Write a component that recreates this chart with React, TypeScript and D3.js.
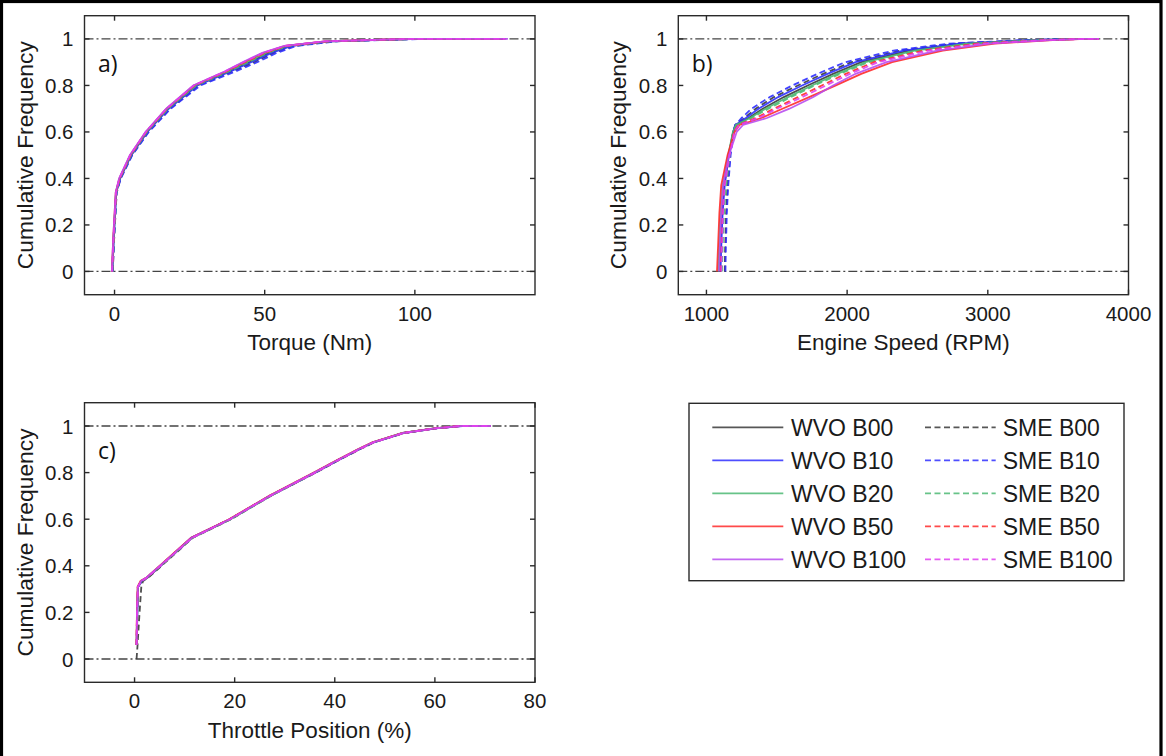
import React from 'react';
import * as d3 from 'd3';

// ---------- shared ----------
const SERIES_NAMES = ['WVO B00', 'WVO B10', 'WVO B20', 'WVO B50', 'WVO B100', 'SME B00', 'SME B10', 'SME B20', 'SME B50', 'SME B100'];
const SERIES_COLORS = ['#3a3a3a', '#2f2fff', '#4cb873', '#ff2a2a', '#b84ef0', '#3a3a3a', '#2f2fff', '#4cb873', '#ff2a2a', '#e040f0'];
const SERIES_DASHED = [false, false, false, false, false, true, true, true, true, true];
const DRAW_ORDER = [0, 5, 1, 6, 2, 7, 3, 8, 4, 9];

const Y_TICKS = [0, 0.2, 0.4, 0.6, 0.8, 1];
const Y_TICK_LABELS = ['0', '0.2', '0.4', '0.6', '0.8', '1'];
const Y_DOMAIN = [-0.1, 1.1];
const REF_LEVELS = [0, 1];

// ---------- a) Torque ----------
const TORQUE_TICKS = [0, 50, 100];
const TORQUE_DOMAIN = [-10, 140];
const TORQUE_LEVELS = [0, 0.15, 0.34, 0.4, 0.5, 0.6, 0.7, 0.8, 0.86, 0.9, 0.94, 0.97, 0.99, 0.997, 1, 1];
const TQ_WVO_B00 = [-0.8, -0.3, 0.5, 1.8, 5.5, 10.8, 17.9, 27.3, 38.0, 44.8, 51.5, 58.5, 72, 91, 101, 129];
const TQ_WVO_B10 = [-0.7, -0.2, 0.6, 1.9, 5.6, 10.9, 18.0, 27.6, 38.6, 45.5, 52.3, 59.0, 72, 92, 102, 130];
const TQ_WVO_B20 = [-0.8, -0.3, 0.5, 1.7, 5.4, 10.6, 17.6, 26.9, 37.4, 43.8, 50.4, 57.4, 71, 90, 100, 128];
const TQ_WVO_B50 = [-0.9, -0.4, 0.4, 1.6, 5.2, 10.4, 17.3, 26.4, 36.9, 43.0, 49.6, 56.8, 70, 89, 99, 130];
const TQ_WVO_B100 = [-0.9, -0.4, 0.4, 1.5, 5.1, 10.3, 17.2, 26.2, 36.6, 42.6, 49.2, 56.5, 70, 89, 99, 131];
const TQ_SME_B00 = [-0.6, -0.1, 0.7, 2.0, 5.8, 11.2, 18.4, 28.0, 39.2, 46.5, 53.0, 59.5, 73, 92, 102, 129];
const TQ_SME_B10 = [-0.6, -0.1, 0.7, 2.1, 5.9, 11.4, 18.7, 28.6, 40.2, 47.5, 54.0, 60.5, 74, 93, 103, 130];
const TQ_SME_B20 = [-0.7, -0.2, 0.6, 1.8, 5.5, 10.8, 17.8, 27.2, 38.0, 44.5, 51.0, 58.0, 72, 91, 101, 129];
const TQ_SME_B50 = [-0.8, -0.3, 0.5, 1.7, 5.3, 10.5, 17.4, 26.6, 37.2, 43.4, 50.0, 57.0, 71, 90, 100, 130];
const TQ_SME_B100 = [-0.8, -0.3, 0.5, 1.6, 5.2, 10.4, 17.3, 26.4, 36.8, 42.9, 49.5, 56.7, 70, 89, 100, 130];

// ---------- b) Engine speed ----------
const RPM_TICKS = [1000, 2000, 3000, 4000];
const RPM_DOMAIN = [800, 4000];
const RPM_LEVELS = [0, 0.1, 0.25, 0.37, 0.5, 0.6, 0.63, 0.66, 0.7, 0.75, 0.8, 0.85, 0.9, 0.95, 0.98, 0.995, 1, 1];
const RPM_WVO_B00 = [1095, 1100, 1110, 1125, 1158, 1190, 1210, 1300, 1400, 1550, 1720, 1900, 2100, 2440, 2830, 3340, 3650, 3790];
const RPM_WVO_B10 = [1100, 1105, 1115, 1130, 1160, 1190, 1205, 1280, 1370, 1510, 1680, 1860, 2060, 2400, 2790, 3320, 3640, 3780];
const RPM_WVO_B20 = [1085, 1090, 1100, 1115, 1155, 1188, 1210, 1310, 1420, 1580, 1750, 1930, 2130, 2480, 2860, 3360, 3660, 3790];
const RPM_WVO_B50 = [1075, 1082, 1092, 1105, 1150, 1200, 1235, 1390, 1540, 1730, 1920, 2100, 2320, 2680, 3050, 3460, 3700, 3790];
const RPM_WVO_B100 = [1090, 1095, 1105, 1118, 1160, 1215, 1260, 1430, 1590, 1760, 1900, 2060, 2280, 2640, 3010, 3440, 3690, 3790];
const RPM_SME_B00 = [1130, 1133, 1140, 1150, 1168, 1190, 1205, 1270, 1350, 1480, 1650, 1830, 2030, 2380, 2770, 3300, 3620, 3790];
const RPM_SME_B10 = [1135, 1138, 1145, 1155, 1172, 1192, 1205, 1250, 1320, 1450, 1610, 1790, 1985, 2330, 2720, 3250, 3600, 3790];
const RPM_SME_B20 = [1110, 1115, 1125, 1140, 1165, 1192, 1215, 1320, 1440, 1600, 1770, 1950, 2150, 2500, 2880, 3380, 3670, 3790];
const RPM_SME_B50 = [1100, 1105, 1112, 1125, 1160, 1195, 1225, 1350, 1480, 1650, 1820, 1990, 2190, 2540, 2920, 3400, 3680, 3790];
const RPM_SME_B100 = [1105, 1110, 1118, 1130, 1165, 1198, 1230, 1370, 1500, 1680, 1850, 2020, 2220, 2580, 2960, 3420, 3690, 3790];

// ---------- c) Throttle ----------
const THR_TICKS = [0, 20, 40, 60, 80];
const THR_DOMAIN = [-10, 80];
const THR_LEVELS = [0, 0.06, 0.2, 0.31, 0.335, 0.35, 0.4, 0.45, 0.52, 0.6, 0.7, 0.8, 0.85, 0.9, 0.93, 0.97, 0.99, 1, 1];
const THR_WVO_B00 = [null, 0.45, 0.55, 0.7, 1.5, 2.6, 5.2, 7.8, 11.4, 19.0, 27.0, 36.0, 40.3, 44.8, 47.7, 53.7, 60.0, 65.0, 71.2];
const THR_WVO_B10 = [null, 0.42, 0.52, 0.7, 1.4, 2.5, 5.1, 7.7, 11.3, 19.1, 27.1, 36.1, 40.4, 44.9, 47.8, 53.8, 60.2, 65.5, 71.0];
const THR_WVO_B20 = [null, 0.40, 0.50, 0.65, 1.3, 2.5, 5.2, 7.8, 11.5, 19.2, 27.2, 36.0, 40.2, 44.7, 47.6, 53.5, 59.8, 64.8, 71.2];
const THR_WVO_B50 = [null, 0.38, 0.48, 0.62, 1.2, 2.4, 5.0, 7.6, 11.3, 18.9, 26.9, 35.8, 40.1, 44.6, 47.5, 53.6, 59.9, 65.0, 71.1];
const THR_WVO_B100 = [null, 0.40, 0.50, 0.66, 1.3, 2.4, 5.1, 7.7, 11.4, 19.0, 27.0, 35.9, 40.2, 44.7, 47.6, 53.7, 60.0, 65.2, 71.2];
const THR_SME_B00 = [0.40, 0.60, 1.00, 1.35, 1.7, 2.8, 5.4, 8.0, 11.6, 19.3, 27.2, 36.2, 40.5, 45.0, 47.9, 53.9, 60.2, 65.4, 71.2];
const THR_SME_B10 = [null, 0.45, 0.55, 0.72, 1.5, 2.6, 5.2, 7.9, 11.5, 19.1, 27.1, 36.0, 40.3, 44.8, 47.7, 53.7, 60.1, 65.1, 71.0];
const THR_SME_B20 = [null, 0.42, 0.52, 0.68, 1.4, 2.5, 5.1, 7.8, 11.4, 19.0, 27.0, 35.9, 40.2, 44.8, 47.6, 53.6, 60.0, 65.0, 71.1];
const THR_SME_B50 = [null, 0.38, 0.48, 0.64, 1.3, 2.5, 5.1, 7.7, 11.4, 19.0, 27.0, 36.0, 40.3, 44.8, 47.7, 53.7, 60.0, 65.0, 71.2];
const THR_SME_B100 = [null, 0.40, 0.50, 0.66, 1.4, 2.5, 5.2, 7.8, 11.5, 19.1, 27.1, 36.1, 40.4, 44.9, 47.8, 53.8, 60.1, 65.2, 71.2];

type Panel = {
  tag: string;
  xLabel: string;
  xDomain: number[];
  xTicks: number[];
  levels: number[];
  series: (number | null)[][];
  box: { x0: number; x1: number; y0: number; y1: number };
};

const PANELS: Panel[] = [
  {
    tag: 'a)', xLabel: 'Torque (Nm)', xDomain: TORQUE_DOMAIN, xTicks: TORQUE_TICKS, levels: TORQUE_LEVELS,
    series: [TQ_WVO_B00, TQ_WVO_B10, TQ_WVO_B20, TQ_WVO_B50, TQ_WVO_B100, TQ_SME_B00, TQ_SME_B10, TQ_SME_B20, TQ_SME_B50, TQ_SME_B100],
    box: { x0: 84.5, x1: 535, y0: 15.7, y1: 294.7 },
  },
  {
    tag: 'b)', xLabel: 'Engine Speed (RPM)', xDomain: RPM_DOMAIN, xTicks: RPM_TICKS, levels: RPM_LEVELS,
    series: [RPM_WVO_B00, RPM_WVO_B10, RPM_WVO_B20, RPM_WVO_B50, RPM_WVO_B100, RPM_SME_B00, RPM_SME_B10, RPM_SME_B20, RPM_SME_B50, RPM_SME_B100],
    box: { x0: 678.3, x1: 1128.5, y0: 15.7, y1: 294.7 },
  },
  {
    tag: 'c)', xLabel: 'Throttle Position (%)', xDomain: THR_DOMAIN, xTicks: THR_TICKS, levels: THR_LEVELS,
    series: [THR_WVO_B00, THR_WVO_B10, THR_WVO_B20, THR_WVO_B50, THR_WVO_B100, THR_SME_B00, THR_SME_B10, THR_SME_B20, THR_SME_B50, THR_SME_B100],
    box: { x0: 84.5, x1: 535, y0: 402.7, y1: 682.3 },
  },
];

const AX = '#2a2a2a';
const FONT = "'Liberation Sans', Arial, sans-serif";
const TAG_FONT = "'Open Sans', 'Noto Sans', sans-serif";

function PanelView({ p }: { p: Panel }) {
  const { box } = p;
  const x = d3.scaleLinear().domain(p.xDomain).range([box.x0, box.x1]);
  const y = d3.scaleLinear().domain(Y_DOMAIN).range([box.y1, box.y0]);
  const tickLen = 5;
  const line = d3
    .line<[number | null, number]>()
    .defined((d) => d[0] !== null)
    .x((d) => x(d[0] as number))
    .y((d) => y(d[1]));
  const cx = (box.x0 + box.x1) / 2;
  const cy = (y(0) + y(1)) / 2;
  return (
    <g>
      <defs>
        <clipPath id={'clip-' + p.tag}>
          <rect x={box.x0} y={box.y0} width={box.x1 - box.x0} height={box.y1 - box.y0} />
        </clipPath>
      </defs>
      <rect x={box.x0} y={box.y0} width={box.x1 - box.x0} height={box.y1 - box.y0} fill="#fff" />
      {REF_LEVELS.map((v) => (
        <line key={'ref' + v} x1={box.x0} x2={box.x1} y1={y(v)} y2={y(v)} stroke="#444" strokeWidth={1.3} strokeDasharray="9,3,2,3" />
      ))}
      <g clipPath={`url(#clip-${p.tag})`}>
        {DRAW_ORDER.map((i) => {
          const pts = p.levels.map((f, k) => [p.series[i][k], f] as [number | null, number]);
          return (
            <path
              key={i}
              d={line(pts) || ''}
              fill="none"
              stroke={SERIES_COLORS[i]}
              strokeWidth={1.8}
              strokeOpacity={0.9}
              strokeDasharray={SERIES_DASHED[i] ? '6,3.5' : undefined}
            />
          );
        })}
      </g>
      <rect x={box.x0} y={box.y0} width={box.x1 - box.x0} height={box.y1 - box.y0} fill="none" stroke={AX} strokeWidth={1.4} />
      {p.xTicks.map((t) => (
        <g key={'xt' + t}>
          <line x1={x(t)} x2={x(t)} y1={box.y1} y2={box.y1 - tickLen} stroke={AX} strokeWidth={1.4} />
          <line x1={x(t)} x2={x(t)} y1={box.y0} y2={box.y0 + tickLen} stroke={AX} strokeWidth={1.4} />
          <text x={x(t)} y={box.y1 + 26} textAnchor="middle" fontSize={20.5} fontFamily={FONT} fill="#1a1a1a">
            {String(t)}
          </text>
        </g>
      ))}
      {Y_TICKS.map((t, k) => (
        <g key={'yt' + t}>
          <line x1={box.x0} x2={box.x0 + tickLen} y1={y(t)} y2={y(t)} stroke={AX} strokeWidth={1.4} />
          <line x1={box.x1} x2={box.x1 - tickLen} y1={y(t)} y2={y(t)} stroke={AX} strokeWidth={1.4} />
          <text x={box.x0 - 11} y={y(t) + 7.5} textAnchor="end" fontSize={20.5} fontFamily={FONT} fill="#1a1a1a">
            {Y_TICK_LABELS[k]}
          </text>
        </g>
      ))}
      <text x={cx} y={box.y1 + 55.5} textAnchor="middle" fontSize={22.5} fontFamily={FONT} fill="#1a1a1a">
        {p.xLabel}
      </text>
      <text
        transform={`translate(${box.x0 - 52},${cy}) rotate(-90)`}
        textAnchor="middle"
        fontSize={22.8}
        fontFamily={FONT}
        fill="#1a1a1a"
      >
        Cumulative Frequency
      </text>
      <text x={box.x0 + 13.5} y={y(1) + 33} fontSize={23} fontFamily={TAG_FONT} fill="#111">
        {p.tag}
      </text>
    </g>
  );
}

function Legend() {
  const bx0 = 689, bx1 = 1124, by0 = 403.3, by1 = 580.7;
  const rowY = d3.scaleLinear().domain([0, 4]).range([427.3, 559.3]);
  return (
    <g>
      <rect x={bx0} y={by0} width={bx1 - bx0} height={by1 - by0} fill="#fff" stroke={AX} strokeWidth={1.4} />
      {SERIES_NAMES.map((name, i) => {
        const col = i < 5 ? 0 : 1;
        const row = i % 5;
        const yy = rowY(row);
        const lx0 = col === 0 ? 712.3 : 925;
        const lx1 = col === 0 ? 783.3 : 995.7;
        const tx = col === 0 ? 791 : 1002.7;
        return (
          <g key={name}>
            <line x1={lx0} x2={lx1} y1={yy} y2={yy} stroke={SERIES_COLORS[i]} strokeWidth={1.8} strokeDasharray={SERIES_DASHED[i] ? '6,3.5' : undefined} strokeOpacity={0.85} />
            <text x={tx} y={yy + 8.5} fontSize={23} fontFamily={FONT} fill="#1a1a1a">
              {name}
            </text>
          </g>
        );
      })}
    </g>
  );
}

export default function App() {
  return (
    <svg width={1166} height={756} style={{ position: 'absolute', left: 0, top: 0, background: '#fff' }}>
      <rect x={0} y={0} width={1166} height={756} fill="#fff" />
      {PANELS.map((p) => (
        <PanelView key={p.tag} p={p} />
      ))}
      <Legend />
      <rect x={1.5} y={1.5} width={1159.5} height={800} fill="none" stroke="#000" strokeWidth={3.2} />
    </svg>
  );
}
